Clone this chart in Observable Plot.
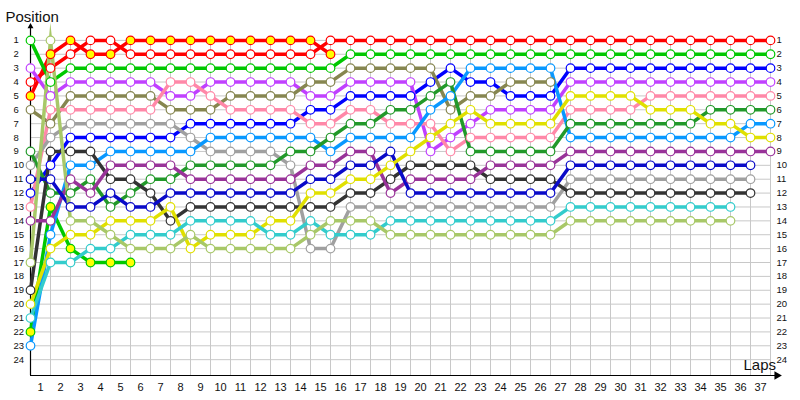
<!DOCTYPE html>
<html><head><meta charset="utf-8">
<script src="https://cdn.jsdelivr.net/npm/d3@7"></script>
<script src="https://cdn.jsdelivr.net/npm/@observablehq/plot@0.6"></script>
<style>html,body{margin:0;padding:0;background:#fff;} svg{display:block}</style>
</head><body><div id="chart"></div>
<script>
// ---- data ----
const laps = [0,1,2,3,4,5,6,7,8,9,10,11,12,13,14,15,16,17,18,19,20,21,22,23,24,25,26,27,28,29,30,31,32,33,34,35,36,37];
const lapTicks = [1,2,3,4,5,6,7,8,9,10,11,12,13,14,15,16,17,18,19,20,21,22,23,24,25,26,27,28,29,30,31,32,33,34,35,36,37];
const positionTicks = [1,2,3,4,5,6,7,8,9,10,11,12,13,14,15,16,17,18,19,20,21,22,23,24];

const redA = [4,3,2,1,1,2,2,2,2,2, 2,2,2,2,2,1,1,1,1,1, 1,1,1,1,1,1,1,1,1,1, 1,1,1,1,1,1,1,1];
const redB = [5,2,1,2,2,1,1,1,1,1, 1,1,1,1,1,2];
const greenA = [1,4,3,3,3,3,3,3,3,3, 3,3,3,3,3,3,2,2,2,2, 2,2,2,2,2,2,2,2,2,2, 2,2,2,2,2,2,2,2];
const greenB = [22,13,16,17,17,17];
const blue = [12,10,8,8,8,8,8,8,7,7, 7,7,7,7,6,6,5,5,5,5, 4,3,4,4,5,5,5,3,3,3, 3,3,3,3,3,3,3,3];
const purple = [3,5,4,4,4,4,4,5,5,4, 4,4,4,4,5,5,4,4,4,4, 9,8,7,6,6,6,6,4,4,4, 4,4,4,4,4,4,4,4];
const olive = [6,7,5,5,5,5,5,6,6,6, 5,5,5,5,4,4,3,3,3,3, 3,6,5,5,4,4,4];
const pink = [13,6,6,6,6,6,6,4,4,5, 6,6,6,6,7,7,6,6,7,7, 7,9,8,8,8,8,8,6,6,6, 6,5,5,5,5,5,5,5];
const gray = [10,8,7,7,7,7,7,7,8,9, 9,9,9,10,16,16,13,13,13,13, 13,13,13,13,13,13,13,11,11,11, 11,11,11,11,11,11,11];
const lightBlue = [23,15,10,10,9,9,9,9,9,8, 8,8,8,8,8,9,8,8,8,8, 6,5,3,3,3,3,3,8,8,8, 8,8,8,8,8,8,7,7];
const darkGreen = [9,12,12,11,13,12,11,11,10,10, 10,10,10,9,9,8,7,7,6,6, 5,4,9,9,9,9,9,7,7,7, 7,7,7,7,6,6,6,6];
const darkGray = [19,9,9,9,11,11,12,14,13,13, 13,13,13,13,13,13,12,12,11,10, 10,10,10,11,11,11,11,12,12,12, 12,12,12,12,12,12,12];
const darkPurple = [14,14,11,12,10,10,10,10,11,11, 11,11,11,11,10,10,9,9,12,11, 11,11,11,10,10,10,10,9,9,9, 9,9,9,9,9,9,9,9];
const darkBlue = [11,11,13,13,12,13,13,12,12,12, 12,12,12,12,11,11,10,10,9,12, 12,12,12,12,12,12,12,10,10,10, 10,10,10,10,10,10,10];
const yellow = [20,16,15,15,14,14,14,13,16,15, 15,15,14,14,12,12,11,11,10,9, 8,7,6,7,7,7,7,5,5,5, 5,6,6,6,7,7,8,8];
const cyan = [21,17,17,16,16,15,15,15,14,14, 14,14,15,15,14,15,15,15,14,14, 14,14,14,14,14,14,14,13,13,13, 13,13,13,13,13,13];
const paleGreen = [17,1,14,14,15,16,16,16,15,16, 16,16,16,16,15,14,14,14,15,15, 15,15,15,15,15,15,15,14,14,14, 14,14,14,14,14,14];

const driverNames = ["Red A","Red B","Green A","Green B","Blue","Purple","Olive","Pink","Gray","Light blue","Dark green","Dark gray","Dark purple","Dark blue","Yellow","Cyan","Pale green"];
const driverPositions = [redA, redB, greenA, greenB, blue, purple, olive, pink, gray, lightBlue, darkGreen, darkGray, darkPurple, darkBlue, yellow, cyan, paleGreen];

// ---- styles ----
const lineColors = ["#ff0000","#ff0000","#00c800","#00c800","#0000ff","#c040ff","#868650","#ff88a8","#a0a0a0","#0898ff","#22992a","#333333","#993399","#0a0ac8","#e0e000","#33cccc","#a8c868"];
const dotFills = ["#ffffff","#ffff00","#ffffff","#ffff00","#ffffff","#ffffff","#ffffff","#ffffff","#ffffff","#ffffff","#ffffff","#ffffff","#ffffff","#ffffff","#ffffff","#ffffff","#ffffff"];

const rows = driverNames.flatMap((name, k) =>
  driverPositions[k].map((p, i) => ({driver: name, lap: laps[i], pos: p})));

const colorScale = {domain: driverNames, range: lineColors};
const Y_MAX = 25.14;

const chart = Plot.plot({
  width: 800, height: 400,
  marginLeft: 30, marginRight: 30, marginTop: 26, marginBottom: 25,
  x: {domain: [0, 37]},
  y: {domain: [0, Y_MAX], reverse: true},
  color: colorScale,
  style: {fontFamily: "'Liberation Sans', Arial, sans-serif", background: "#fff", color: "#111"},
  marks: [
    Plot.gridY(positionTicks, {stroke: "#c8c8c8", strokeOpacity: 1, strokeWidth: 1}),
    Plot.gridX(lapTicks, {y1: 1, y2: Y_MAX, stroke: "#c8c8c8", strokeOpacity: 1, strokeWidth: 1}),
    Plot.ruleX([0], {stroke: "#000", strokeWidth: 1.2}),
    Plot.ruleY([Y_MAX], {x1: 0, x2: 37.3, stroke: "#000", strokeWidth: 1.2}),
    Plot.dot([Y_MAX], {x: 37.32, y: d => d, symbol: "triangle", rotate: 90, r: 3.2, fill: "#000"}),
    Plot.dot([0], {x: 0, y: d => d, symbol: "triangle", r: 2.2, fill: "#000"}),
    Plot.axisY(positionTicks, {anchor: "left", tickSize: 0, tickPadding: 0, textAnchor: "start", dx: -17, fontSize: 9.5, label: null}),
    Plot.axisY(positionTicks, {anchor: "right", tickSize: 0, tickPadding: 6, fontSize: 9.5, label: null}),
    Plot.axisX(lapTicks, {anchor: "bottom", tickSize: 0, tickPadding: 8, dx: -10, fontSize: 11, label: null}),
    Plot.text(["Position"], {frameAnchor: "top-left", dx: -25, dy: -5, textAnchor: "start", lineAnchor: "bottom", fontSize: 15, fill: "#111"}),
    Plot.text(["Laps"], {frameAnchor: "bottom-right", dx: -27, dy: -6, textAnchor: "start", lineAnchor: "bottom", fontSize: 15, fill: "#111"}),
    Plot.line(rows, {x: "lap", y: "pos", z: "driver", stroke: "driver", strokeWidth: 3.5, strokeLinejoin: "miter", strokeMiterlimit: 12}),
    Plot.dot(rows, {x: "lap", y: "pos", stroke: "driver", fill: d => dotFills[driverNames.indexOf(d.driver)], r: 4.3, strokeWidth: 1.2})
  ]
});
document.getElementById("chart").appendChild(chart);
</script>
</body></html>
